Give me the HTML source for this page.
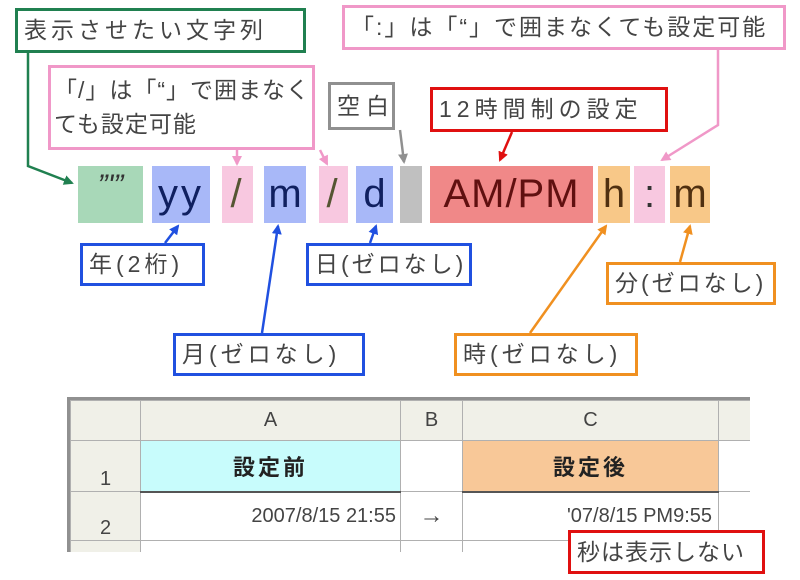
<!DOCTYPE html>
<html><head><meta charset="utf-8"><style>
body{margin:0;width:800px;height:580px;background:#fff;position:relative;overflow:hidden;font-family:"Liberation Sans","Noto Sans CJK JP",sans-serif;color:#444}
.b{position:absolute;background:#fff;border:3px solid;box-sizing:border-box;font-size:23px;line-height:1.25;padding:0 6px;white-space:nowrap;display:flex;align-items:center;letter-spacing:2px}
.c{position:absolute;top:166px;height:57px;font-size:40px;line-height:57px;text-align:center;color:#102060;letter-spacing:3px}
td{border:1px solid #b0b0b0;padding:0;text-align:center;font-size:20px;color:#444}
</style></head><body>
<div class="b" style="left:15px;top:8px;width:291px;height:45px;border-color:#208050;letter-spacing:4px">表示させたい文字列</div>
<div class="b" style="left:342px;top:5px;width:444px;height:45px;border-color:#f098c8">「:」は「“」で囲まなくても設定可能</div>
<div class="b" style="left:48px;top:65px;width:267px;height:85px;border-color:#f098c8;line-height:1.45;letter-spacing:1px;padding:0 3px">「/」は「“」で囲まなく<br>ても設定可能</div>
<div class="b" style="left:328px;top:82px;width:67px;height:48px;border-color:#909090;letter-spacing:6px">空白</div>
<div class="b" style="left:430px;top:87px;width:238px;height:45px;border-color:#e01010;letter-spacing:5px">12時間制の設定</div>

<div class="c" style="left:78px;width:65px;background:#a8d8b8;font-size:30px;line-height:40px;color:#333;font-style:italic;letter-spacing:0">”'”</div>
<div class="c" style="left:152px;width:58px;background:#a8b8f8">yy</div>
<div class="c" style="left:222px;width:31px;background:#f8c8e0;color:#553">/</div>
<div class="c" style="left:264px;width:42px;background:#a8b8f8;letter-spacing:0">m</div>
<div class="c" style="left:319px;width:29px;background:#f8c8e0;color:#553">/</div>
<div class="c" style="left:356px;width:37px;background:#a8b8f8;letter-spacing:0">d</div>
<div class="c" style="left:400px;width:22px;background:#c0c0c0"></div>
<div class="c" style="left:430px;width:163px;background:#f08888;color:#601010;letter-spacing:1px">AM/PM</div>
<div class="c" style="left:598px;width:32px;background:#f8c888;color:#503010;letter-spacing:0">h</div>
<div class="c" style="left:634px;width:31px;background:#f8c8e0;color:#333;letter-spacing:0">:</div>
<div class="c" style="left:670px;width:40px;background:#f8c888;color:#503010;letter-spacing:0">m</div>

<div class="b" style="left:80px;top:243px;width:125px;height:43px;border-color:#2050e0;letter-spacing:4px">年(2桁)</div>
<div class="b" style="left:173px;top:333px;width:192px;height:43px;border-color:#2050e0;letter-spacing:4px">月(ゼロなし)</div>
<div class="b" style="left:306px;top:243px;width:166px;height:43px;border-color:#2050e0;letter-spacing:3px">日(ゼロなし)</div>
<div class="b" style="left:606px;top:262px;width:170px;height:43px;border-color:#f09020;letter-spacing:3px">分(ゼロなし)</div>
<div class="b" style="left:454px;top:333px;width:184px;height:43px;border-color:#f09020;letter-spacing:4px">時(ゼロなし)</div>

<svg width="800" height="580" style="position:absolute;left:0;top:0">
<defs>
<marker id="g" markerWidth="10" markerHeight="10" refX="8" refY="5" orient="auto" markerUnits="userSpaceOnUse"><path d="M0,0 L10,5 L0,10z" fill="#208050"/></marker>
<marker id="p" markerWidth="10" markerHeight="10" refX="8" refY="5" orient="auto" markerUnits="userSpaceOnUse"><path d="M0,0 L10,5 L0,10z" fill="#f098c8"/></marker>
<marker id="k" markerWidth="10" markerHeight="10" refX="8" refY="5" orient="auto" markerUnits="userSpaceOnUse"><path d="M0,0 L10,5 L0,10z" fill="#909090"/></marker>
<marker id="r" markerWidth="10" markerHeight="10" refX="8" refY="5" orient="auto" markerUnits="userSpaceOnUse"><path d="M0,0 L10,5 L0,10z" fill="#e01010"/></marker>
<marker id="u" markerWidth="10" markerHeight="10" refX="8" refY="5" orient="auto" markerUnits="userSpaceOnUse"><path d="M0,0 L10,5 L0,10z" fill="#2050e0"/></marker>
<marker id="o" markerWidth="10" markerHeight="10" refX="8" refY="5" orient="auto" markerUnits="userSpaceOnUse"><path d="M0,0 L10,5 L0,10z" fill="#f09020"/></marker>
</defs>
<g fill="none" stroke-width="2.5">
<path d="M28,53 V166 L72,183" stroke="#208050" marker-end="url(#g)"/>
<path d="M237,150 V164" stroke="#f098c8" marker-end="url(#p)"/>
<path d="M320,150 L327,164" stroke="#f098c8" marker-end="url(#p)"/>
<path d="M718,50 V125 L662,160" stroke="#f098c8" marker-end="url(#p)"/>
<path d="M400,130 L404,162" stroke="#909090" marker-end="url(#k)"/>
<path d="M512,132 L500,160" stroke="#e01010" marker-end="url(#r)"/>
<path d="M165,243 L178,226" stroke="#2050e0" marker-end="url(#u)"/>
<path d="M262,333 L278,226" stroke="#2050e0" marker-end="url(#u)"/>
<path d="M370,243 L376,226" stroke="#2050e0" marker-end="url(#u)"/>
<path d="M530,333 L606,226" stroke="#f09020" marker-end="url(#o)"/>
<path d="M680,262 L690,226" stroke="#f09020" marker-end="url(#o)"/>
</g></svg>

<div style="position:absolute;left:67px;top:397px;width:683px;height:155px;overflow:hidden;border:3px solid #909090;border-bottom:none;border-right:none;box-sizing:border-box">
<table style="border-collapse:collapse;table-layout:fixed;width:700px">
<colgroup><col style="width:70px"><col style="width:260px"><col style="width:62px"><col style="width:256px"><col style="width:52px"></colgroup>
<tr style="height:40px;background:#f0f0e8"><td>&nbsp;</td><td>A</td><td>B</td><td>C</td><td></td></tr>
<tr style="height:51px"><td style="background:#f0f0e8;vertical-align:bottom">1</td><td style="background:#c8fcfc;font-weight:bold;font-size:22px;color:#222;border-bottom:2px solid #555;letter-spacing:3px">設定前</td><td></td><td style="background:#f8c898;font-weight:bold;font-size:22px;color:#222;border-bottom:2px solid #555;letter-spacing:3px">設定後</td><td></td></tr>
<tr style="height:49px"><td style="background:#f0f0e8;vertical-align:bottom">2</td><td style="text-align:right;padding-right:4px">2007/8/15 21:55</td><td style="font-size:24px">→</td><td style="text-align:right;padding-right:6px">'07/8/15 PM9:55</td><td></td></tr>
<tr style="height:20px"><td style="background:#f0f0e8"></td><td></td><td></td><td></td><td></td></tr>
</table></div>
<div class="b" style="left:568px;top:530px;width:197px;height:44px;border-color:#e01010;letter-spacing:1px">秒は表示しない</div>
</body></html>
